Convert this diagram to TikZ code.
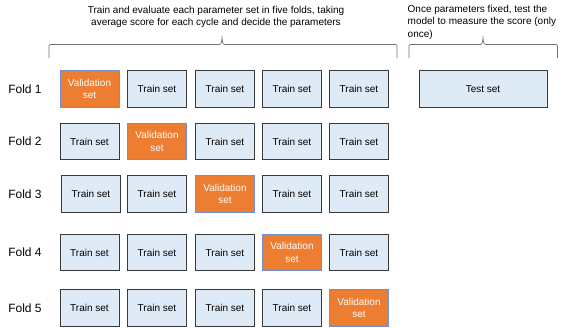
\documentclass[tikz,border=0pt]{standalone}
\usepackage{fontspec}
\setmainfont{Liberation Sans}
\usepackage{xcolor}
\usepackage{tikz}
\usetikzlibrary{positioning, calc}
\definecolor{trainfill}{HTML}{DEEAF6}
\definecolor{valfill}{HTML}{ED7D31}
\definecolor{valedge}{HTML}{6F8FD8}
\definecolor{boxedge}{HTML}{3A3A3A}
\definecolor{bracecol}{HTML}{707070}
\tikzset{
  train/.style = {rectangle, draw=boxedge, fill=trainfill, line width=0.9pt,
                  minimum width=59pt, minimum height=36.5pt, inner sep=0pt,
                  font=\fontsize{10}{12.5}\selectfont},
  valid/.style = {train, draw=valedge, fill=valfill, text=white, align=center},
  testbox/.style = {train, minimum width=128pt},
  foldlab/.style = {font=\fontsize{12}{14}\selectfont},
  note/.style  = {font=\fontsize{10}{12.5}\selectfont, inner sep=0pt},
  curly/.style = {draw=bracecol, line width=0.7pt},
}

\begin{document}
\begin{tikzpicture}[x=1pt, y=-1pt]
  \useasboundingbox (0,0) rectangle (576,327);

  % ── Fold labels ─────────────────────────────────────────────────
  \node[foldlab] (L1) at (25,  89.0) {Fold 1};
  \node[foldlab] (L2) at (25, 141.5) {Fold 2};
  \node[foldlab] (L3) at (25, 194.0) {Fold 3};
  \node[foldlab] (L4) at (25, 252.5) {Fold 4};
  \node[foldlab] (L5) at (25, 308.0) {Fold 5};

  % ── Fold 1 ──────────────────────────────────────────────────────
  \node[valid] (f1c1) at ( 89.5,  89.0) {Validation\\set};
  \node[train] (f1c2) at (157.0,  89.0) {Train set};
  \node[train] (f1c3) at (225.0,  89.0) {Train set};
  \node[train] (f1c4) at (292.0,  89.0) {Train set};
  \node[train] (f1c5) at (359.0,  89.0) {Train set};

  % ── Fold 2 ──────────────────────────────────────────────────────
  \node[train] (f2c1) at ( 89.5, 141.5) {Train set};
  \node[valid] (f2c2) at (157.0, 141.5) {Validation\\set};
  \node[train] (f2c3) at (225.0, 141.5) {Train set};
  \node[train] (f2c4) at (292.0, 141.5) {Train set};
  \node[train] (f2c5) at (359.0, 141.5) {Train set};

  % ── Fold 3 ──────────────────────────────────────────────────────
  \node[train] (f3c1) at ( 91.0, 194.0) {Train set};
  \node[train] (f3c2) at (157.0, 194.0) {Train set};
  \node[valid] (f3c3) at (225.0, 194.0) {Validation\\set};
  \node[train] (f3c4) at (292.0, 194.0) {Train set};
  \node[train] (f3c5) at (359.0, 194.0) {Train set};

  % ── Fold 4 ──────────────────────────────────────────────────────
  \node[train] (f4c1) at ( 89.5, 252.5) {Train set};
  \node[train] (f4c2) at (157.0, 252.5) {Train set};
  \node[train] (f4c3) at (225.0, 252.5) {Train set};
  \node[valid] (f4c4) at (292.0, 252.5) {Validation\\set};
  \node[train] (f4c5) at (359.0, 252.5) {Train set};

  % ── Fold 5 ──────────────────────────────────────────────────────
  \node[train] (f5c1) at ( 89.5, 308.0) {Train set};
  \node[train] (f5c2) at (157.0, 308.0) {Train set};
  \node[train] (f5c3) at (225.0, 308.0) {Train set};
  \node[train] (f5c4) at (292.0, 308.0) {Train set};
  \node[valid] (f5c5) at (359.0, 308.0) {Validation\\set};

  % ── Held-out test set ───────────────────────────────────────────
  \node[testbox] (test) at (483, 89.0) {Test set};

  % ── Braces over the two groups ──────────────────────────────────
  \coordinate (cvL)   at ( 49, 58);
  \coordinate (cvR)   at (397, 58);
  \coordinate (cvtip) at (222, 36);
  \coordinate (tsL)   at (409, 58);
  \coordinate (tsR)   at (557.5, 58);
  \coordinate (tstip) at (483, 36);

  \draw[curly] (cvL) -- ++(0,-10) .. controls +(0,-3.5) and +(-3.5,0) .. ++(3.5,-3.5)
    -- ($(cvtip)+(-2.5,8.5)$) .. controls +(2,0) and +(0,4) .. (cvtip)
    .. controls +(0,4) and +(-2,0) .. ($(cvtip)+(2.5,8.5)$)
    -- ($(cvR)+(-3.5,-13.5)$) .. controls +(3.5,0) and +(0,-3.5) .. ++(3.5,3.5)
    -- (cvR);
  \draw[curly] (tsL) -- ++(0,-10) .. controls +(0,-3.5) and +(-3.5,0) .. ++(3.5,-3.5)
    -- ($(tstip)+(-2.5,8.5)$) .. controls +(2,0) and +(0,4) .. (tstip)
    .. controls +(0,4) and +(-2,0) .. ($(tstip)+(2.5,8.5)$)
    -- ($(tsR)+(-3.5,-13.5)$) .. controls +(3.5,0) and +(0,-3.5) .. ++(3.5,3.5)
    -- (tsR);

  % Notes above the braces
  \node[note, align=center] (cvnote) at (216, 17)
    {Train and evaluate each parameter set in five folds, taking\\
     average score for each cycle and decide the parameters};
  \node[note, align=left, anchor=north west] (tsnote) at (407.5, 5)
    {Once parameters fixed, test the\\
     model to measure the score (only\\
     once)};

\end{tikzpicture}
\end{document}
